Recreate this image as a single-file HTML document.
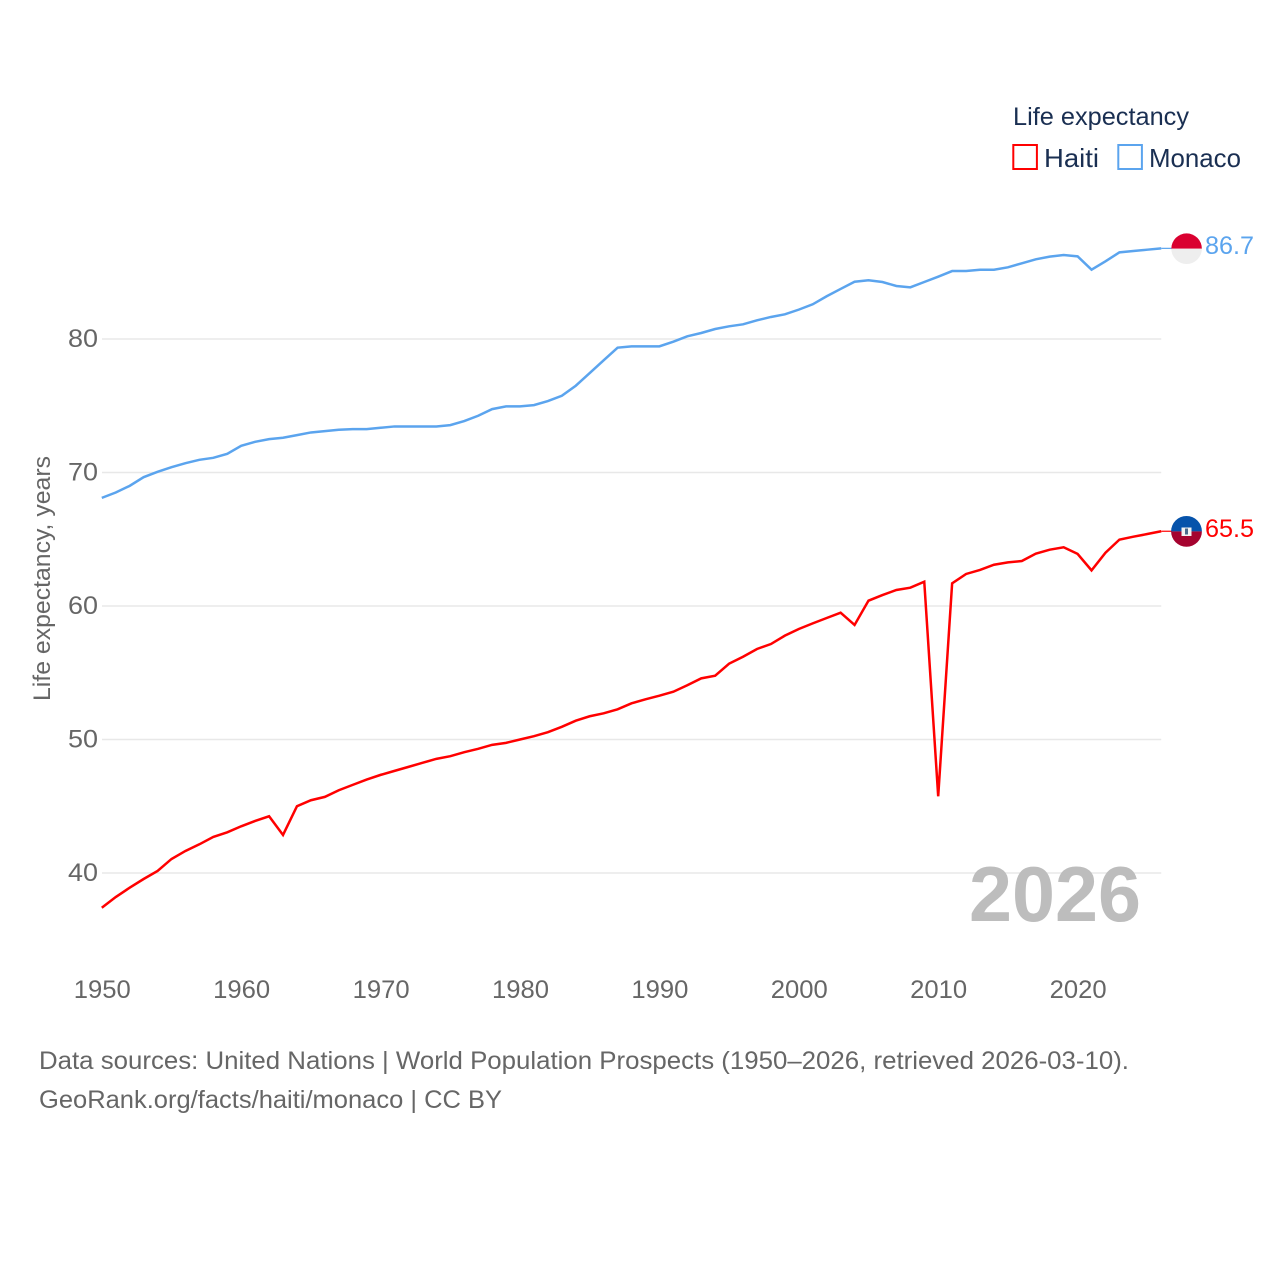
<!DOCTYPE html>
<html lang="en">
<head>
<meta charset="utf-8">
<title>Life expectancy: Haiti and Monaco</title>
<style>
html,body{margin:0;padding:0;background:#fff;width:1280px;height:1280px;overflow:hidden}
svg{display:block}
text{font-family:"Liberation Sans",Arial,sans-serif}
</style>
</head>
<body>
<svg id="chart" width="1280" height="1280" viewBox="0 0 1280 1280" xmlns="http://www.w3.org/2000/svg">
  <rect width="1280" height="1280" fill="#fff"/>
  <g id="grid"></g>
  <g id="yticks"></g>
  <g id="xticks"></g>
  <text transform="translate(50,701) rotate(-90)" font-size="24" fill="#666" textLength="245" lengthAdjust="spacingAndGlyphs">Life expectancy, years</text>
  <text x="969" y="921" font-size="78" font-weight="700" fill="#bdbdbd" textLength="172" lengthAdjust="spacingAndGlyphs">2026</text>
  <g id="series"></g>

  <defs>
    <clipPath id="clip-monaco"><circle cx="1186.6" cy="248.7" r="15.3"/></clipPath>
    <clipPath id="clip-haiti"><circle cx="1186.5" cy="531.4" r="15.4"/></clipPath>
  </defs>
  <g clip-path="url(#clip-monaco)">
    <rect x="1171" y="233" width="32" height="15.7" fill="#da0030"/>
    <rect x="1171" y="248.7" width="32" height="16" fill="#eeeeee"/>
  </g>
  <g clip-path="url(#clip-haiti)">
    <rect x="1171" y="515" width="32" height="16.4" fill="#0653ab"/>
    <rect x="1171" y="531.4" width="32" height="17" fill="#a5032f"/>
    <rect x="1181.5" y="527.5" width="10" height="8.5" fill="#f2f2f2"/>
    <rect x="1185" y="528.5" width="3" height="6" fill="#4a6a8c"/>
  </g>
  <text id="label-monaco" x="1205" y="254" font-size="25" fill="#5ba4ee" textLength="49" lengthAdjust="spacingAndGlyphs"></text>
  <text id="label-haiti" x="1205" y="537" font-size="25" fill="#ff0000" textLength="49" lengthAdjust="spacingAndGlyphs"></text>

  <g>
    <text x="1013" y="125" font-size="25" fill="#1a2f52" textLength="176" lengthAdjust="spacingAndGlyphs">Life expectancy</text>
    <rect x="1013.3" y="145" width="23.6" height="24" fill="none" stroke="#ff0000" stroke-width="2"/>
    <text x="1044" y="167" font-size="26" fill="#1a2f52" textLength="55" lengthAdjust="spacingAndGlyphs">Haiti</text>
    <rect x="1118.3" y="145" width="23.6" height="24" fill="none" stroke="#5ba4ee" stroke-width="2"/>
    <text x="1149" y="167" font-size="26" fill="#1a2f52" textLength="92" lengthAdjust="spacingAndGlyphs">Monaco</text>
  </g>

  <text x="39" y="1069" font-size="25" fill="#666" textLength="1090" lengthAdjust="spacingAndGlyphs">Data sources: United Nations | World Population Prospects (1950–2026, retrieved 2026-03-10).</text>
  <text x="39" y="1108" font-size="25" fill="#666" textLength="463" lengthAdjust="spacingAndGlyphs">GeoRank.org/facts/haiti/monaco | CC BY</text>
</svg>
<script>
const firstYear = 1950;
const xTickYears = [1950, 1960, 1970, 1980, 1990, 2000, 2010, 2020];
const yTickValues = [40, 50, 60, 70, 80];
const haitiValues = [
  37.4,38.2,38.9,39.55,40.15,41.05,41.65,42.15,42.7,43.05,
  43.5,43.9,44.25,42.85,45.0,45.45,45.7,46.2,46.6,47.0,
  47.35,47.65,47.95,48.25,48.55,48.75,49.05,49.3,49.6,49.75,
  50.0,50.25,50.55,50.95,51.41,51.74,51.96,52.26,52.71,53.01,
  53.28,53.58,54.06,54.58,54.78,55.68,56.2,56.78,57.15,57.78,
  58.28,58.7,59.1,59.5,58.58,60.4,60.82,61.2,61.37,61.82,
  45.75,61.7,62.4,62.7,63.09,63.27,63.37,63.92,64.22,64.4,
  63.9,62.67,63.99,64.97,65.19,65.39,65.6
];
const monacoValues = [
  68.1,68.5,69.0,69.65,70.05,70.4,70.7,70.95,71.1,71.4,
  72.0,72.3,72.5,72.6,72.8,73.0,73.1,73.2,73.25,73.25,
  73.35,73.45,73.45,73.45,73.45,73.55,73.85,74.25,74.75,74.95,
  74.95,75.05,75.35,75.75,76.5,77.45,78.4,79.35,79.45,79.45,
  79.45,79.8,80.2,80.45,80.75,80.95,81.1,81.4,81.65,81.85,
  82.2,82.6,83.2,83.75,84.29,84.4,84.27,83.97,83.87,84.27,
  84.67,85.09,85.09,85.19,85.19,85.37,85.67,85.97,86.17,86.29,
  86.19,85.19,85.82,86.49,86.59,86.69,86.79
];
const haitiLabel = "65.5";
const monacoLabel = "86.7";

const NS = 'http://www.w3.org/2000/svg';
function xScale(year) { return 101.8 + (year - 1950) * 13.94; }
function yScale(v) { return 873 - (v - 40) * 13.35; }

function make(tag, attrs, parent) {
  const el = document.createElementNS(NS, tag);
  for (const k in attrs) el.setAttribute(k, attrs[k]);
  parent.appendChild(el);
  return el;
}

const gridG = document.getElementById('grid');
const yG = document.getElementById('yticks');
const xG = document.getElementById('xticks');
const seriesG = document.getElementById('series');

yTickValues.forEach(function (v) {
  const line = make('line', {x1: 102, x2: xScale(2026), y1: yScale(v), y2: yScale(v), stroke: '#e8e8e8', 'stroke-width': 1.5}, gridG);
  
  
  const t = make('text', {x: 68, y: yScale(v) + 8, 'font-size': 25, fill: '#666', textLength: 30, lengthAdjust: 'spacingAndGlyphs'}, yG);
  t.textContent = v;
  
  
});

xTickYears.forEach(function (yr) {
  const t = make('text', {x: xScale(yr) - 28, y: 998, 'font-size': 25, fill: '#666', textLength: 57, lengthAdjust: 'spacingAndGlyphs'}, xG);
  t.textContent = yr;
  
  
});

function drawSeries(values, color, name) {
  const pts = values.map(function (v, i) { return xScale(firstYear + i).toFixed(2) + ',' + yScale(v).toFixed(2); });
  const line = make('polyline', {points: pts.join(' '), fill: 'none', stroke: color, 'stroke-width': 2.5, 'stroke-linejoin': 'miter'}, seriesG);
  
  
  const lastY = yScale(values[values.length - 1]);
  const lastX = xScale(firstYear + values.length - 1);
  const conn = make('line', {x1: lastX, x2: 1172, y1: lastY, y2: lastY, stroke: color, 'stroke-width': 1.2}, seriesG);
  
  
}
drawSeries(haitiValues, '#ff0000', 'haiti');
drawSeries(monacoValues, '#5ba4ee', 'monaco');

document.getElementById('label-haiti').textContent = haitiLabel;
document.getElementById('label-monaco').textContent = monacoLabel;
</script>
</body>
</html>
